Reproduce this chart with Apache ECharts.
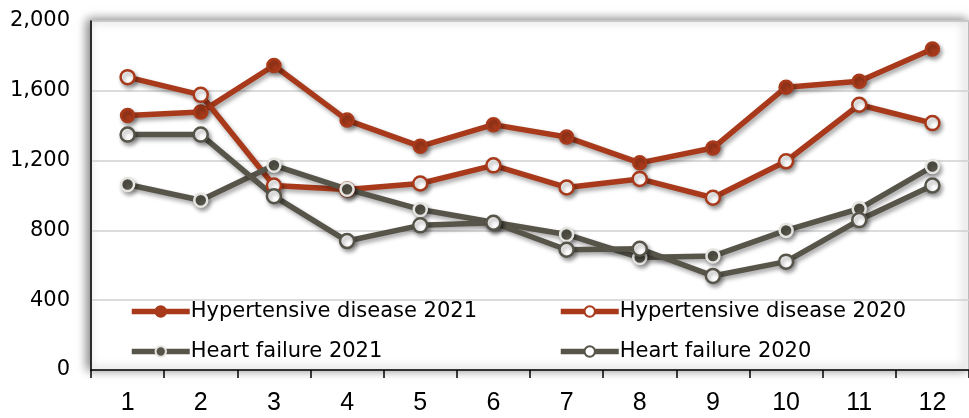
<!DOCTYPE html>
<html>
<head>
<meta charset="utf-8">
<script src="https://cdn.jsdelivr.net/npm/echarts@6/dist/echarts.min.js"></script>
<style>
  body { margin: 0; background: #fff; }
  #chart { width: 969px; height: 418px; }
</style>
</head>
<body>
<div id="chart"></div>
<script>
const months = ['1', '2', '3', '4', '5', '6', '7', '8', '9', '10', '11', '12'];
const hyper2021 = [1458, 1478, 1745, 1432, 1282, 1406, 1335, 1187, 1272, 1621, 1655, 1840];
const hyper2020 = [1678, 1577, 1057, 1034, 1069, 1173, 1046, 1095, 987, 1196, 1520, 1415];
const heart2021 = [1063, 973, 1173, 1036, 920, 847, 777, 644, 653, 800, 924, 1166];
const heart2020 = [1349, 1349, 996, 739, 829, 844, 689, 695, 539, 621, 859, 1057];
const yTicks = [0, 400, 800, 1200, 1600, 2000];

const RED = '#a83a1b';
const GRAY = '#57554a';
const arial = 'Liberation Sans, Arial, sans-serif';
const wide = 'DejaVu Sans, sans-serif';

function mkSeries(name, data, color, filled, markBorder) {
  return {
    name: name,
    type: 'line',
    data: data,
    symbol: 'circle',
    symbolSize: filled ? 13 : 14,
    showSymbol: true,
    lineStyle: {
      width: 5.5, color: color,
      shadowColor: 'rgba(0,0,0,0.35)', shadowBlur: 4, shadowOffsetX: 2, shadowOffsetY: 3
    },
    itemStyle: {
      color: filled ? color : '#fff',
      borderColor: markBorder,
      borderWidth: 2.5,
      shadowColor: 'rgba(0,0,0,0.35)', shadowBlur: 4, shadowOffsetX: 2, shadowOffsetY: 3
    },
    emphasis: { disabled: true },
    animation: false
  };
}

function mkLegend(left, names) {
  return {
    orient: 'vertical', left: left, top: 301, itemGap: 19, padding: 0,
    itemWidth: 58, itemHeight: 13,
    lineStyle: { width: 5.5, shadowBlur: 0, shadowOffsetX: 0, shadowOffsetY: 0 },
    itemStyle: { shadowBlur: 0, shadowOffsetX: 0, shadowOffsetY: 0 },
    textStyle: { fontSize: 21, color: '#000', fontFamily: wide, padding: [0, 0, 0, -4] },
    data: names
  };
}

const chart = echarts.init(document.getElementById('chart'));
chart.setOption({
  animation: false,
  textStyle: { fontFamily: arial },
  grid: {
    left: 91, right: -1, top: 21, bottom: 48,
    show: true, backgroundColor: '#fff', borderColor: '#a8a8a8', borderWidth: 1.5,
    shadowColor: 'rgba(0,0,0,0.5)', shadowBlur: 10, shadowOffsetX: -3, shadowOffsetY: -1
  },
  legend: [
    mkLegend(129, ['Hypertensive disease 2021', 'Heart failure 2021']),
    mkLegend(558, ['Hypertensive disease 2020', 'Heart failure 2020'])
  ],
  xAxis: {
    type: 'category',
    data: months,
    boundaryGap: true,
    axisLine: { show: true, lineStyle: { color: '#000', width: 1.5 } },
    axisTick: { show: true, alignWithLabel: false, length: 8, lineStyle: { color: '#000', width: 1.5 } },
    axisLabel: { fontSize: 25, color: '#000', margin: 21, fontFamily: arial },
    splitLine: { show: false }
  },
  yAxis: {
    type: 'value',
    min: yTicks[0], max: yTicks[yTicks.length - 1], interval: 400,
    axisLine: { show: true, lineStyle: { color: '#000', width: 1.5 } },
    axisTick: { show: false },
    axisLabel: {
      fontSize: 21, color: '#000', margin: 21, fontFamily: wide,
      formatter: v => v.toLocaleString('en-US')
    },
    splitLine: { show: true, lineStyle: { color: '#d0d0d0', width: 1.5 } }
  },
  series: [
    mkSeries('Hypertensive disease 2021', hyper2021, RED, true, RED),
    mkSeries('Hypertensive disease 2020', hyper2020, RED, false, RED),
    mkSeries('Heart failure 2021', heart2021, GRAY, true, '#e4e4e0'),
    mkSeries('Heart failure 2020', heart2020, GRAY, false, GRAY)
  ]
});
</script>
</body>
</html>
